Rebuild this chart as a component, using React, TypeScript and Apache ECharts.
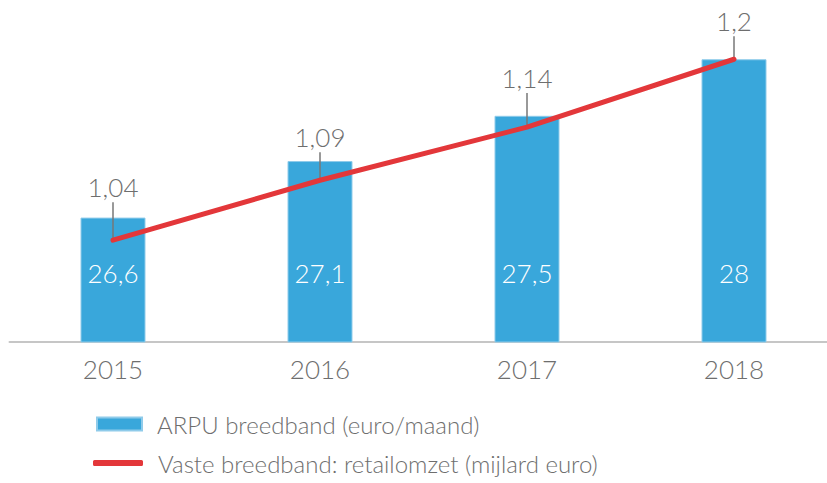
import React, { useEffect, useRef } from "react";
import * as echarts from "echarts";

const years = ["2015", "2016", "2017", "2018"];
const arpu = [26.6, 27.1, 27.5, 28];
const retail = [1.04, 1.093, 1.14, 1.2];
const arpuName = "ARPU breedband (euro/maand)";
const retailName = "Vaste breedband: retailomzet (mijlard euro)";

// label lift above each line point (px), layout only
const labelLift = [44, 34, 40, 29];

const FONT = "Lato, 'Open Sans', sans-serif";
const GREY = "#6e6e6e";
const BLUE = "#39a7db";
const RED = "#e3373a";

const fmt = (v: number, digits: number) =>
  String(parseFloat(v.toFixed(digits))).replace(".", ",");

const legendText = {
  fontSize: 24,
  color: GREY,
  fontFamily: FONT,
  fontWeight: 300,
};

export default function App() {
  const ref = useRef<HTMLDivElement>(null);
  useEffect(() => {
    if (!ref.current) return;
    const chart = echarts.init(ref.current, null, { renderer: "svg" });
    chart.setOption({
      animation: false,
      backgroundColor: "#ffffff",
      textStyle: { fontFamily: FONT },
      grid: { left: 9.5, top: 2.7, width: 828, height: 339.3 },
      legend: [
        {
          left: 96,
          top: 412,
          padding: 0,
          itemWidth: 45,
          itemHeight: 13,
          textStyle: { ...legendText, padding: [0, 0, 0, 10] },
          data: [{ name: arpuName, icon: "rect" }],
        },
        {
          left: 93,
          top: 451,
          padding: 0,
          itemWidth: 50,
          itemHeight: 6,
          textStyle: { ...legendText, padding: [0, 0, 0, 10] },
          data: [
            {
              name: retailName,
              icon: "roundRect",
              itemStyle: { color: RED, borderWidth: 0 },
            },
          ],
        },
      ],
      xAxis: {
        type: "category",
        data: years,
        axisLine: { lineStyle: { color: "#c6c6c6", width: 2 } },
        axisTick: { show: false },
        axisLabel: {
          fontSize: 26,
          color: GREY,
          margin: 14,
          fontFamily: FONT,
          fontWeight: 300,
        },
      },
      yAxis: [
        { type: "value", min: 25.5, max: 28.5, show: false, splitLine: { show: false } },
        { type: "value", min: 0.95, max: 1.25, show: false, splitLine: { show: false } },
      ],
      series: [
        {
          name: arpuName,
          type: "bar",
          data: arpu,
          barWidth: 65,
          itemStyle: { color: BLUE, borderColor: "#8fcbea", borderWidth: 1 },
          label: {
            show: true,
            position: "insideBottom",
            distance: 57,
            color: "#ffffff",
            fontSize: 26,
            fontFamily: FONT,
            fontWeight: 300,
            formatter: (p: any) => fmt(p.value, 1),
          },
          z: 1,
        },
        {
          name: "leaders",
          type: "custom",
          yAxisIndex: 1,
          data: retail.map((v, i) => [i, v]),
          z: 2,
          silent: true,
          renderItem: (params: any, api: any) => {
            const idx = params.dataIndex;
            const pt = api.coord([api.value(0), api.value(1)]);
            const len = labelLift[idx] - 6;
            return {
              type: "line",
              shape: { x1: pt[0], y1: pt[1], x2: pt[0], y2: pt[1] - len },
              style: { stroke: "#777777", lineWidth: 1.5 },
            };
          },
        },
        {
          name: retailName,
          type: "line",
          yAxisIndex: 1,
          symbol: "circle",
          symbolSize: 3,
          showSymbol: true,
          lineStyle: { color: RED, width: 5, cap: "round", join: "round" },
          itemStyle: { color: RED },
          z: 3,
          data: retail.map((v, i) => ({
            value: v,
            label: {
              show: true,
              position: "top",
              distance: labelLift[i] - 5,
              color: GREY,
              fontSize: 26,
              fontFamily: FONT,
              fontWeight: 300,
              formatter: (p: any) => fmt(p.value, 2),
            },
          })),
        },
      ],
    });
    return () => chart.dispose();
  }, []);
  return (
    <div
      style={{
        position: "absolute",
        left: 0,
        top: 0,
        width: 827,
        height: 483,
        overflow: "hidden",
      }}
    >
      <div ref={ref} style={{ width: 840, height: 483 }} />
    </div>
  );
}
